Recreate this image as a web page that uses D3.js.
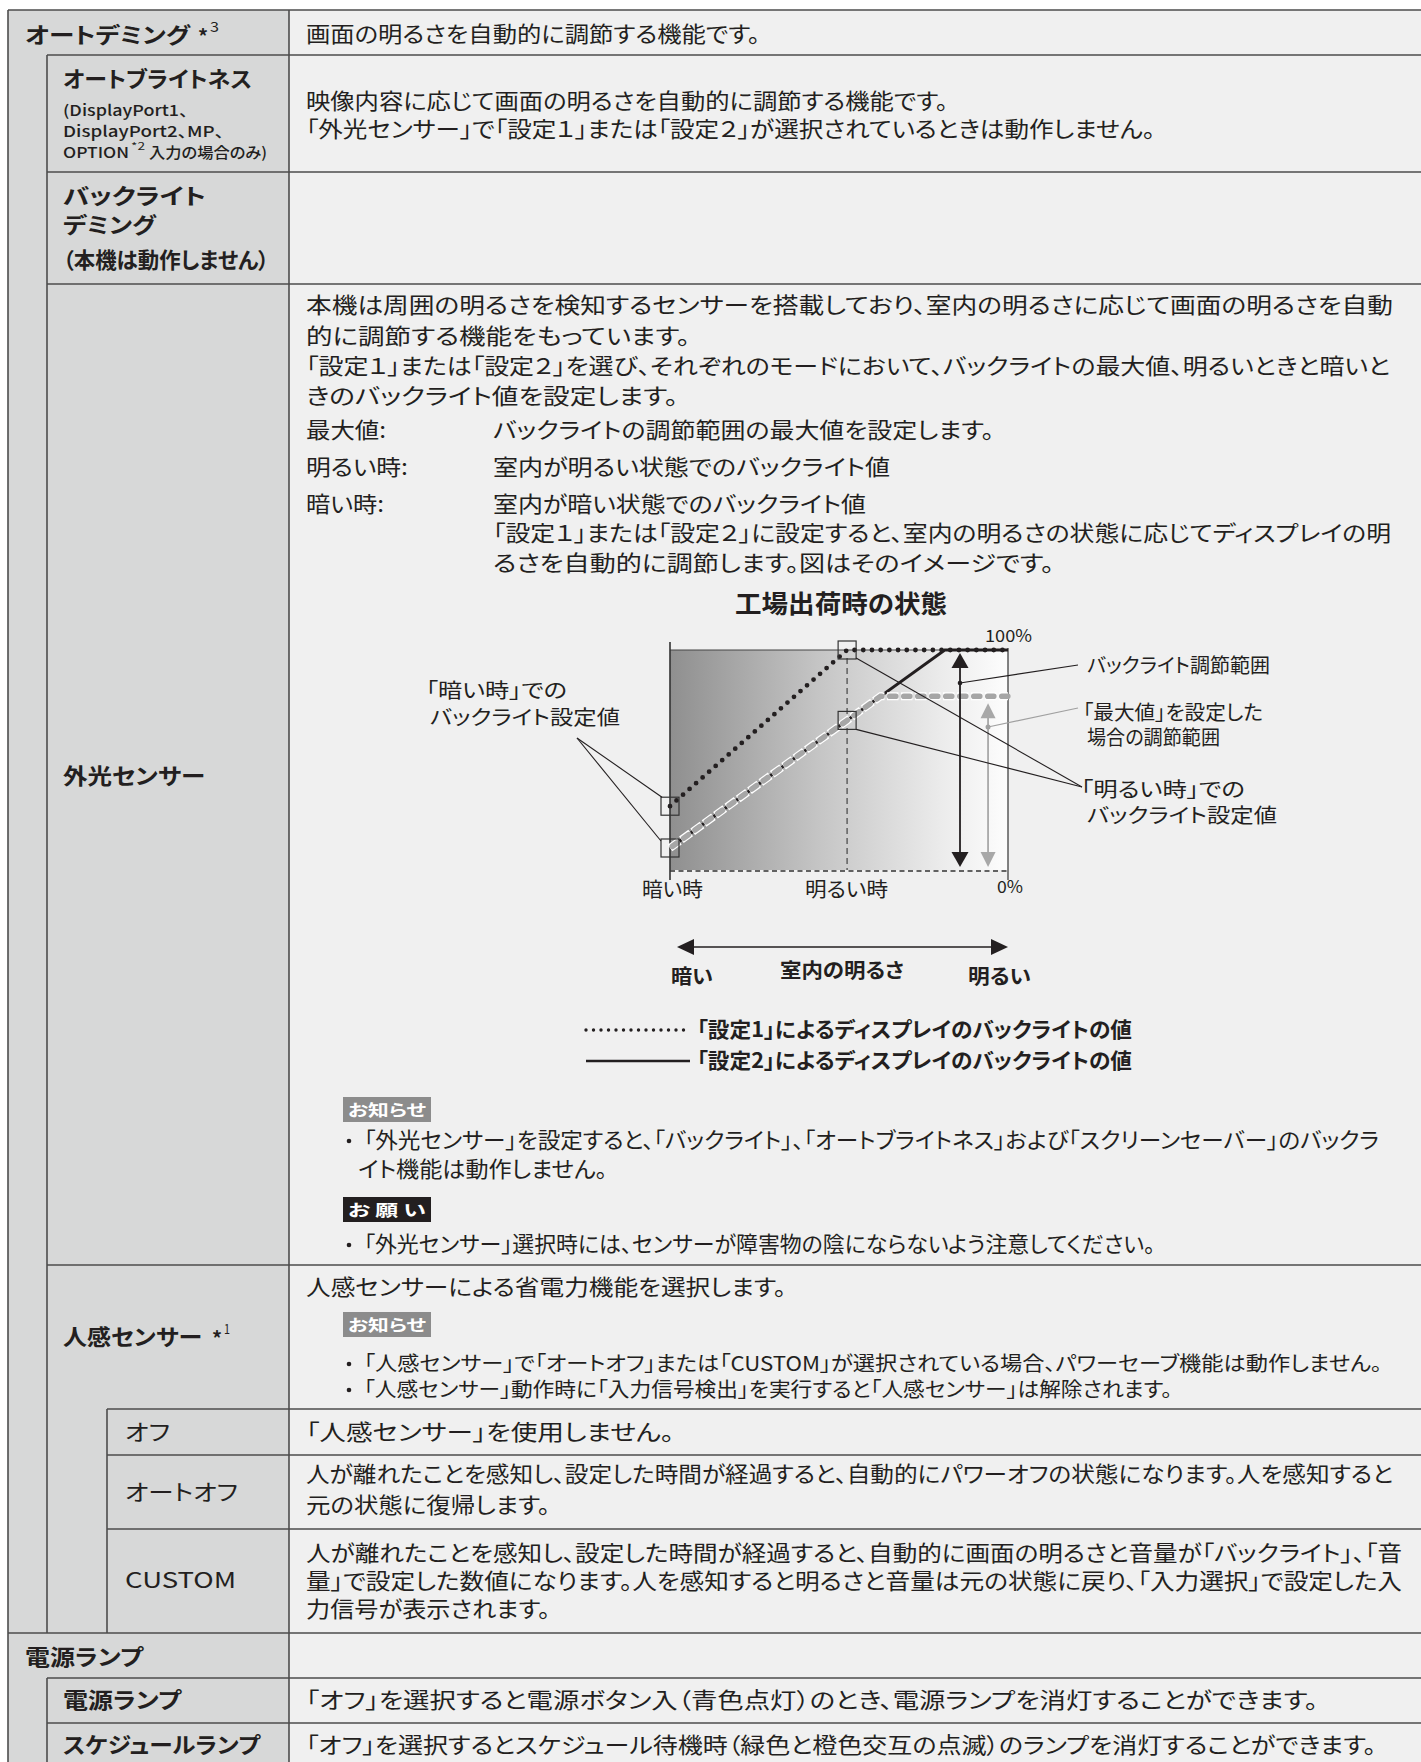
<!DOCTYPE html>
<html><head><meta charset="utf-8">
<script src="https://cdn.jsdelivr.net/npm/d3@7/dist/d3.min.js"></script>
<style>
html,body{margin:0;padding:0;background:#fff;}
svg{display:block;font-family:"Noto Sans CJK JP","Noto Sans",sans-serif;}
</style></head><body>
<svg id="page" width="1421" height="1762"></svg>
<script>
// ---------------- chart data ----------------
const roomLevels = ["暗い時", "明るい時"];          // x tick labels
const roomLevelPos = [0, 0.524];                    // position on the room-brightness axis (0..1)
const yTickLabels = ["0%", "100%"];
const yTickValues = [0, 100];
const setting1 = [[0, 29], [0.524, 100], [1, 100]];              // 設定1 (dotted)
const setting2 = [[0, 10], [0.524, 68], [0.813, 100], [1, 100]]; // 設定2 (solid)
const setting2Max = [[0, 10], [0.524, 68], [0.623, 79], [1, 79]];// 最大値 set (grey dashed)
const rangeArrows = [[0.858, 0, 100], [0.941, 0, 79]];          // [x, from, to]
const legendLabels = ["「設定1」によるディスプレイのバックライトの値", "「設定2」によるディスプレイのバックライトの値"];
const chartTitle = "工場出荷時の状態";
const brightnessAxis = ["暗い", "室内の明るさ", "明るい"];

// ---------------- table text ----------------
const labelLines = [
  ["オートデミング", 25, 43, 190, 700, 22],
  ["オートブライトネス", 63, 87, 252, 700, 22],
  ["(DisplayPort1、", 63, 116, 188, 500, 15],
  ["DisplayPort2、MP、", 63, 137, 224, 500, 15],
  ["OPTION", 63, 158, 129, 500, 15],
  ["入力の場合のみ)", 149, 158, 267, 500, 15],
  ["バックライト", 63, 204, 206, 700, 22],
  ["デミング", 63, 233, 156, 700, 22],
  ["（本機は動作しません）", 63, 268, 269, 700, 22],
  ["外光センサー", 63, 784, 205, 700, 22],
  ["人感センサー", 63, 1345, 202, 700, 22],
  ["オフ", 125, 1440, 170, 400, 22],
  ["オートオフ", 125, 1500, 238, 400, 22],
  ["CUSTOM", 125, 1588, 236, 400, 22],
  ["電源ランプ", 25, 1665, 143, 700, 22],
  ["電源ランプ", 63, 1708, 181, 700, 22],
  ["スケジュールランプ", 63, 1753, 260, 700, 22],
  ["*", 198, 44, 208, 700, 20],
  ["3", 210, 32, 219, 400, 14],
  ["*2", 131, 150, 145, 400, 10],
  ["*", 212, 1346, 222, 700, 20],
  ["1", 224, 1334, 230, 400, 14]
];
const descLines = [
  ["画面の明るさを自動的に調節する機能です。", 306, 42, 760],
  ["映像内容に応じて画面の明るさを自動的に調節する機能です。", 306, 109, 948],
  ["「外光センサー」で「設定１」または「設定２」が選択されているときは動作しません。", 306, 137, 1155],
  ["本機は周囲の明るさを検知するセンサーを搭載しており、室内の明るさに応じて画面の明るさを自動", 306, 313, 1393],
  ["的に調節する機能をもっています。", 306, 344, 690],
  ["「設定１」または「設定２」を選び、それぞれのモードにおいて、バックライトの最大値、明るいときと暗いと", 306, 374, 1390],
  ["きのバックライト値を設定します。", 306, 404, 678],
  ["最大値:", 306, 438, 386],
  ["バックライトの調節範囲の最大値を設定します。", 493, 438, 994],
  ["明るい時:", 306, 475, 408],
  ["室内が明るい状態でのバックライト値", 493, 475, 890],
  ["暗い時:", 306, 512, 384],
  ["室内が暗い状態でのバックライト値", 493, 512, 866],
  ["「設定１」または「設定２」に設定すると、室内の明るさの状態に応じてディスプレイの明", 493, 541, 1391],
  ["るさを自動的に調節します。図はそのイメージです。", 493, 571, 1054],
  ["「外光センサー」を設定すると、「バックライト」、「オートブライトネス」および「スクリーンセーバー」のバックラ", 364, 1148, 1379],
  ["イト機能は動作しません。", 358, 1177, 607],
  ["「外光センサー」選択時には、センサーが障害物の陰にならないよう注意してください。", 364, 1252, 1155],
  ["人感センサーによる省電力機能を選択します。", 306, 1295, 786],
  ["「人感センサー」で「オートオフ」または「CUSTOM」が選択されている場合、パワーセーブ機能は動作しません。", 364, 1371, 1382, 20],
  ["「人感センサー」動作時に「入力信号検出」を実行すると「人感センサー」は解除されます。", 364, 1397, 1172, 20],
  ["「人感センサー」を使用しません。", 306, 1440, 674],
  ["人が離れたことを感知し、設定した時間が経過すると、自動的にパワーオフの状態になります。人を感知すると", 306, 1482, 1393],
  ["元の状態に復帰します。", 306, 1513, 550],
  ["人が離れたことを感知し、設定した時間が経過すると、自動的に画面の明るさと音量が「バックライト」、「音", 306, 1561, 1402],
  ["量」で設定した数値になります。人を感知すると明るさと音量は元の状態に戻り、「入力選択」で設定した入", 306, 1589, 1402],
  ["力信号が表示されます。", 306, 1617, 550],
  ["「オフ」を選択すると電源ボタン入（青色点灯）のとき、電源ランプを消灯することができます。", 306, 1708, 1318],
  ["「オフ」を選択するとスケジュール待機時（緑色と橙色交互の点滅）のランプを消灯することができます。", 306, 1753, 1376]
];
const bulletYs = [1148, 1252, 1371, 1397];
const badges = [["お知らせ", 1097, "#8c8c8c"], ["お 願 い", 1197, "#231f20"], ["お知らせ", 1312, "#8c8c8c"]];

// ---------------- drawing ----------------
const INK = "#231f20", LINE = "#4d4d4d";
const svg = d3.select("#page");

function T(s, x, y, o = {}) {
  const g = o.g || svg;
  const t = g.append("text").attr("x", x).attr("y", y)
    .attr("font-size", o.size || 22).attr("font-weight", o.w || 400)
    .attr("fill", o.fill || INK)
    .style("font-feature-settings", '"palt"')
    .text(s);
  const nat = t.node().getComputedTextLength();
  const target = o.end != null ? o.end - x : nat * (o.sx || 1.15);
  t.attr("textLength", target).attr("lengthAdjust", "spacingAndGlyphs");
  return t;
}
function L(x1, y1, x2, y2, st = LINE, w = 1.6, dash = null) {
  const l = svg.append("line").attr("x1", x1).attr("y1", y1).attr("x2", x2).attr("y2", y2)
    .attr("stroke", st).attr("stroke-width", w);
  if (dash) l.attr("stroke-dasharray", dash);
  return l;
}

// table backgrounds
const X0 = 8, XI1 = 47, XI2 = 107, XD = 289, XR = 1421, YT = 10, YB = 1762;
svg.append("rect").attr("x", X0).attr("y", YT).attr("width", XD - X0).attr("height", YB - YT).attr("fill", "#d7d8d8");
svg.append("rect").attr("x", XD).attr("y", YT).attr("width", XR - XD).attr("height", YB - YT).attr("fill", "#f0f0f0");

// table lines
L(X0, YT, XR, YT);
L(X0, YT, X0, YB);
L(XD, YT, XD, YB);
L(XI1, 55, XI1, 1633);
L(XI1, 1678, XI1, YB);
L(XI2, 1409, XI2, 1633);
[[55, XI1], [172, XI1], [284, XI1], [1265, XI1], [1409, XI2], [1455, XI2], [1529, XI2], [1633, X0], [1678, XI1], [1723, XI1]]
  .forEach(([y, x]) => L(x, y, XR, y));

labelLines.forEach(([s, x, y, end, w, size]) => T(s, x, y, { end, w, size }));
descLines.forEach(([s, x, y, end, size]) => T(s, x, y, { end, size: size || 22 }));
bulletYs.forEach(y => svg.append("circle").attr("cx", 349).attr("cy", y - 7).attr("r", 2.3).attr("fill", INK));

badges.forEach(([s, y, c]) => {
  svg.append("rect").attr("x", 343).attr("y", y).attr("width", 88).attr("height", 25).attr("fill", c);
  T(s, 348, y + 19, { end: 426, w: 700, size: 16, fill: "#fff" });
});

// ---------------- chart ----------------
const x = d3.scaleLinear().domain([0, 1]).range([670, 1008]);
const y = d3.scaleLinear().domain([0, 100]).range([870, 650]);

const defs = svg.append("defs");
const gr = defs.append("linearGradient").attr("id", "shade");
[[0, "#8f8f8f"], [0.45, "#c6c6c6"], [0.8, "#ebebeb"], [1, "#fdfdfd"]].forEach(([o, c]) =>
  gr.append("stop").attr("offset", o).attr("stop-color", c));

svg.append("rect").attr("x", x(0)).attr("y", y(100)).attr("width", x(1) - x(0)).attr("height", y(0) - y(100))
  .attr("fill", "url(#shade)");

T(chartTitle, 735, 613, { end: 947, w: 700, size: 25 });

// frame
L(x(0), y(100), x(1), y(100), "#444", 1);
L(x(0), y(100) - 8, x(0), y(0) + 10, "#333", 1.6);
L(x(1), y(100) - 2, x(1), y(0) + 10, "#333", 1.2);
L(x(0), y(0) + 1, x(1), y(0) + 1, "#333", 1.6, "5 3.5");
L(x(roomLevelPos[1]), y(100) + 8, x(roomLevelPos[1]), y(0), "#666", 1.6, "6 4");

// tick labels
T(roomLevels[0], 642, 897, { end: 703, size: 20 });
T(roomLevels[1], 805, 897, { end: 888, size: 20 });
T(yTickLabels[1], 985, y(yTickValues[1]) - 8, { end: 1032, size: 17 });
T(yTickLabels[0], 997, y(yTickValues[0]) + 23, { end: 1023, size: 17 });

const line = d3.line().x(d => x(d[0])).y(d => y(d[1]));

// setting 2 solid
svg.append("path").attr("d", line(setting2)).attr("fill", "none").attr("stroke", INK).attr("stroke-width", 3);
// max-limited grey dashed with white outline
svg.append("path").attr("d", line(setting2Max)).attr("fill", "none").attr("stroke", "#fff")
  .attr("stroke-width", 8).attr("stroke-dasharray", "11.5 2.5");
svg.append("path").attr("d", line(setting2Max)).attr("fill", "none").attr("stroke", "#a6a6a6")
  .attr("stroke-width", 5.6).attr("stroke-linecap", "round").attr("stroke-dasharray", "6 8").attr("stroke-dashoffset", -2.8);
// setting 1 dotted
svg.append("path").attr("d", line(setting1)).attr("fill", "none").attr("stroke", INK)
  .attr("stroke-width", 4.8).attr("stroke-linecap", "round").attr("stroke-dasharray", "0 8.7");

// boxes at setting points
const boxPts = [[0, setting1[0][1]], [0, setting2[0][1]], [roomLevelPos[1], setting1[1][1]], [roomLevelPos[1], setting2[1][1]]];
boxPts.forEach(([a, b]) => svg.append("rect").attr("x", x(a) - 9).attr("y", y(b) - 9).attr("width", 18).attr("height", 18)
  .attr("fill", "none").attr("stroke", "#333").attr("stroke-width", 1.2));

// range arrows
rangeArrows.forEach(([px, lo, hi], i) => {
  const c = i === 0 ? INK : "#a8a8a8";
  const cx = x(px), yt = y(hi) + (i === 0 ? 3 : 7), yb = y(lo) - 3, hw = i === 0 ? 8.5 : 7.5, hh = 15;
  L(cx, yt + 5, cx, yb - 5, c, 1.8);
  svg.append("path").attr("d", `M${cx},${yt}L${cx - hw},${yt + hh}L${cx + hw},${yt + hh}Z`).attr("fill", c);
  svg.append("path").attr("d", `M${cx},${yb}L${cx - hw},${yb - hh}L${cx + hw},${yb - hh}Z`).attr("fill", c);
});

// leaders and annotations
const p0 = [x(rangeArrows[0][0]), y(85)], p1 = [x(rangeArrows[1][0]), y(65)];
L(p0[0], p0[1], 1078, 665, INK, 1.2);
svg.append("circle").attr("cx", p0[0]).attr("cy", p0[1]).attr("r", 2.3).attr("fill", INK);
L(p1[0], p1[1], 1078, 708, "#a0a0a0", 1.2);
svg.append("circle").attr("cx", p1[0]).attr("cy", p1[1]).attr("r", 2.5).attr("fill", "#a0a0a0");
L(1082, 787, x(roomLevelPos[1]) + 9, y(setting1[1][1]) + 8, INK, 1.1);
L(1082, 787, x(roomLevelPos[1]) + 9, y(setting2[1][1]) + 9, INK, 1.1);
L(577, 738, x(0) - 8, y(setting1[0][1]) - 9, INK, 1.1);
L(577, 738, x(0) - 9, y(setting2[0][1]) - 7, INK, 1.1);

T("バックライト調節範囲", 1087, 673, { end: 1270, size: 20 });
T("「最大値」を設定した", 1083, 720, { end: 1263, size: 20 });
T("場合の調節範囲", 1087, 745, { end: 1220, size: 20 });
T("「明るい時」での", 1081, 797, { end: 1245, size: 20 });
T("バックライト設定値", 1087, 823, { end: 1277, size: 20 });
T("「暗い時」での", 426, 698, { end: 567, size: 20 });
T("バックライト設定値", 430, 725, { end: 620, size: 20 });

// room brightness arrow
const ay = 947;
L(x(0) + 15, ay, x(1) - 15, ay, INK, 1.6);
svg.append("path").attr("d", `M${x(0) + 7},${ay}L${x(0) + 24},${ay - 8}L${x(0) + 24},${ay + 8}Z`).attr("fill", INK);
svg.append("path").attr("d", `M${x(1)},${ay}L${x(1) - 17},${ay - 8}L${x(1) - 17},${ay + 8}Z`).attr("fill", INK);
T(brightnessAxis[0], 671, 984, { end: 713, w: 700, size: 20 });
T(brightnessAxis[1], 780, 978, { end: 904, w: 700, size: 20 });
T(brightnessAxis[2], 968, 984, { end: 1031, w: 700, size: 20 });

// legend
svg.append("line").attr("x1", 586).attr("x2", 691).attr("y1", 1030).attr("y2", 1030).attr("stroke", INK)
  .attr("stroke-width", 3.4).attr("stroke-linecap", "round").attr("stroke-dasharray", "0 7.5");
L(586, 1061, 690, 1061, INK, 2.6);
T(legendLabels[0], 697, 1037, { end: 1132, w: 700, size: 21 });
T(legendLabels[1], 697, 1068, { end: 1132, w: 700, size: 21 });
</script></body></html>
